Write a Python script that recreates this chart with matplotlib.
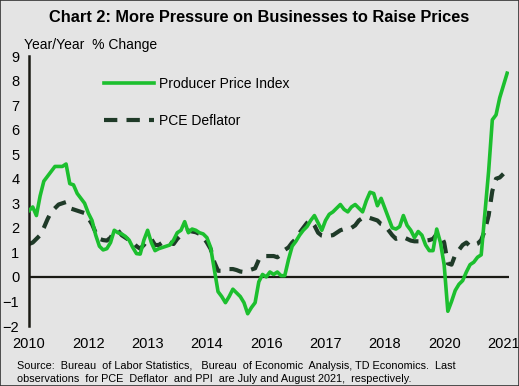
import numpy as np
import pandas as pd
import matplotlib
matplotlib.use("Agg")
import matplotlib.pyplot as plt
from matplotlib.patches import Rectangle

plt.rcParams['font.family'] = ['Liberation Sans', 'DejaVu Sans']

# monthly, Nov 2010 .. Aug 2021 (PPI) / Jul 2021 (PCE)
dates = pd.date_range('2010-11-01', '2021-08-01', freq='MS')

ppi = [2.7, 2.85, 2.5, 3.3, 3.9, 4.1, 4.3, 4.5, 4.5, 4.5,
       4.6, 3.8, 3.75, 3.4, 3.2, 3.0, 2.6, 2.3, 1.7, 1.25,
       1.1, 1.15, 1.4, 1.9, 1.8, 1.75, 1.65, 1.5, 1.2, 0.95,
       0.93, 1.5, 1.9, 1.4, 1.07, 1.15, 1.2, 1.25, 1.3, 1.5,
       1.8, 1.9, 2.25, 1.8, 1.95, 1.9, 1.8, 1.75, 1.6, 1.2,
       0.3, -0.6, -0.8, -1.05, -0.8, -0.5, -0.65, -0.8, -1.05, -1.5,
       -1.25, -1.05, -0.2, 0.1, 0.0, 0.2, 0.1, 0.2, 0.05, 0.05,
       0.7, 1.25, 1.45, 1.7, 1.9, 2.05, 2.3, 2.5, 2.2, 1.9,
       2.3, 2.55, 2.65, 2.8, 2.95, 2.75, 2.65, 2.85, 2.95, 2.8,
       2.65, 3.1, 3.45, 3.4, 2.9, 3.2, 2.8, 2.4, 2.0, 1.95,
       2.05, 2.5, 2.1, 1.9, 1.6, 1.85, 1.7, 1.3, 1.07, 1.07,
       1.95, 1.4, 0.5, -1.4, -1.0, -0.55, -0.3, -0.15, 0.2, 0.5,
       0.6, 0.8, 0.9, 2.6, 4.3, 6.4, 6.6, 7.3, 7.8, 8.3]

pce = [1.34, 1.4, 1.55, 1.7, 2.0, 2.35, 2.65, 2.8, 2.95, 3.0,
       3.05, 2.8, 2.75, 2.7, 2.65, 2.6, 2.4, 2.15, 1.8, 1.55,
       1.5, 1.48, 1.6, 1.85, 1.9, 1.7, 1.6, 1.5, 1.42, 1.25,
       1.15, 1.3, 1.5, 1.55, 1.3, 1.3, 1.4, 1.48, 1.4, 1.34,
       1.55, 1.7, 1.8, 1.89, 1.85, 1.82, 1.75, 1.62, 1.4, 1.14,
       0.6, 0.25, 0.25, 0.3, 0.32, 0.32, 0.28, 0.22, 0.2, 0.25,
       0.3, 0.35, 0.7, 0.85, 0.85, 0.85, 0.85, 0.8, 0.9, 1.1,
       1.2, 1.4, 1.55, 1.8, 2.0, 2.2, 2.3, 2.1, 1.8, 1.68,
       1.65, 1.68, 1.7, 1.8, 1.9, 1.95, 2.0, 2.0, 2.1, 2.3,
       2.4, 2.45, 2.4, 2.35, 2.3, 2.15, 2.1, 1.9, 1.7, 1.55,
       1.6, 1.62, 1.55, 1.48, 1.45, 1.45, 1.45, 1.48, 1.5, 1.55,
       1.75, 1.75, 1.4, 0.55, 0.5, 0.9, 1.1, 1.3, 1.4, 1.25,
       1.3, 1.35, 1.5, 1.9, 2.5, 3.5, 4.0, 4.05, 4.2]

tick_idx = list(range(0, len(dates), 16))
tick_labels = [str(dates[i].year) for i in tick_idx]
yticks = list(range(-2, 10))

bg = '#e4e4e4'
green = '#1cbf2e'
dark = '#1f3a28'

fig = plt.figure(figsize=(5.19, 3.86), dpi=100, facecolor=bg)
ax = fig.add_axes([29/519, 1 - 326/386, (509 - 29)/519, (326 - 56)/386])
ax.set_facecolor(bg)

x = np.arange(len(dates))
ax.plot(x[:len(ppi)], ppi, color=green, lw=2.6, solid_joinstyle='round',
        label='Producer Price Index', zorder=3)
ax.plot(x[:len(pce)], pce, color=dark, lw=3.0, dashes=(3.2, 2.2),
        label='PCE Deflator', zorder=2)
ax.axhline(0, color='#1a1a14', lw=1.6, zorder=1)

ax.set_xlim(0, 129.5)
ax.set_ylim(-2, 9)
ax.set_yticks(yticks)
ax.set_xticks(tick_idx)
ax.set_xticklabels(tick_labels)
ax.tick_params(axis='both', length=0, labelsize=10.5, colors='black')
ax.tick_params(axis='x', pad=8)
ax.tick_params(axis='y', pad=7)
for s in ['top', 'right', 'bottom']:
    ax.spines[s].set_visible(False)
ax.spines['left'].set_color('#1a1a14')
ax.spines['left'].set_linewidth(1.8)

leg = ax.legend(loc='upper left', bbox_to_anchor=(0.13, 0.97), frameon=False,
                fontsize=10, handlelength=3.6, handletextpad=0.4,
                labelspacing=1.7)

fig.text(0.5, 1 - 17/386, 'Chart 2: More Pressure on Businesses to Raise Prices',
         ha='center', va='center', fontsize=11.8, fontweight='bold')
fig.text(24/519, 1 - 45/386, 'Year/Year  % Change', ha='left', va='center',
         fontsize=10)
fig.text(17/519, 1 - 366/386,
         'Source:  Bureau  of Labor Statistics,   Bureau  of Economic  Analysis, TD Economics.  Last',
         ha='left', va='center', fontsize=7.8)
fig.text(17/519, 1 - 379/386,
         'observations  for PCE  Deflator  and PPI  are July and August 2021,  respectively.',
         ha='left', va='center', fontsize=7.8)

fig.patches.append(Rectangle((0, 0), 1, 1, transform=fig.transFigure, fill=False,
                             edgecolor='#333333', lw=1.2))

fig.savefig('out.png', dpi=100, facecolor=bg)
